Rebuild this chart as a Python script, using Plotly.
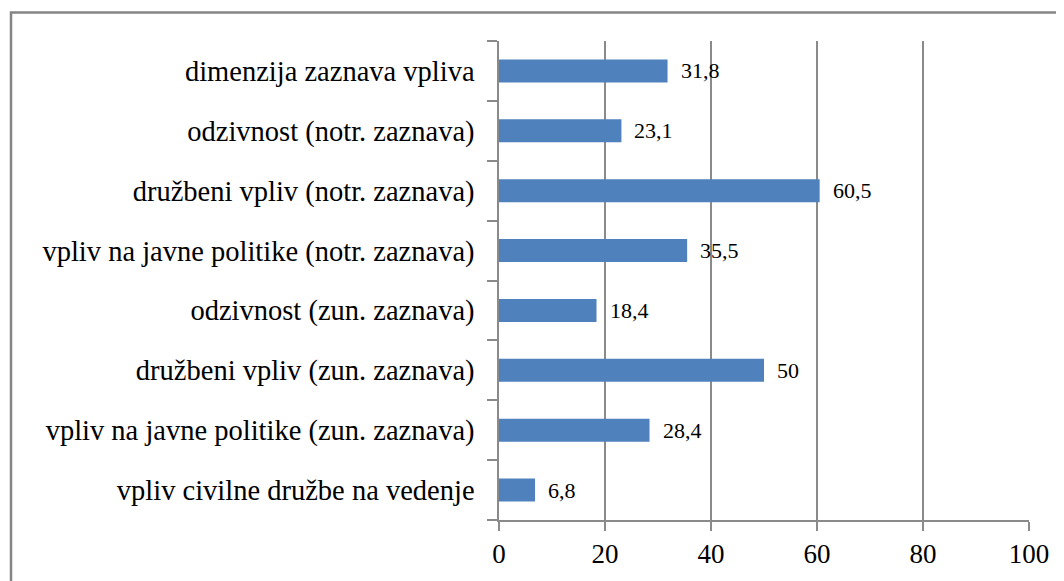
import plotly.graph_objects as go

categories = [
    "dimenzija zaznava vpliva",
    "odzivnost (notr. zaznava)",
    "družbeni vpliv (notr. zaznava)",
    "vpliv na javne politike (notr. zaznava)",
    "odzivnost (zun. zaznava)",
    "družbeni vpliv (zun. zaznava)",
    "vpliv na javne politike (zun. zaznava)",
    "vpliv civilne družbe na vedenje",
]
values = [31.8, 23.1, 60.5, 35.5, 18.4, 50, 28.4, 6.8]
x_ticks = [0, 20, 40, 60, 80, 100]

def fmt(v):
    s = ("%g" % v)
    return s.replace(".", ",")

SERIF = "'Liberation Serif', 'DejaVu Serif', 'Times New Roman', serif"

# page has an 8px body margin, so the figure is drawn 8px smaller
OFF = 8
W, H = 1064 - OFF, 581 - OFF
L, T = 499 - OFF, 41 - OFF
pw, ph = 530, 479
R, B = W - L - pw, H - T - ph

fig = go.Figure()
fig.add_trace(go.Bar(
    x=values, y=categories, orientation="h",
    marker=dict(color="#4F81BD", line=dict(width=0)),
    hoverinfo="x+y",
))

for c, v in zip(categories, values):
    fig.add_annotation(
        x=v, y=c, text=fmt(v), showarrow=False,
        xanchor="left", yanchor="middle", xshift=11,
        font=dict(family=SERIF, size=22, color="#000000"),
    )

grid_col = "#8a8a8a"
fig.update_layout(
    width=W, height=H,
    margin=dict(l=L, r=R, t=T, b=B, pad=0),
    paper_bgcolor="white", plot_bgcolor="white",
    bargap=0.615,
    showlegend=False,
    font=dict(family=SERIF, color="#000000"),
    xaxis=dict(
        range=[0, 100], tickvals=x_ticks, ticktext=[str(t) for t in x_ticks],
        showgrid=True, gridcolor=grid_col, gridwidth=1.5,
        showline=True, linecolor=grid_col, linewidth=1.5,
        ticks="outside", ticklen=9, tickcolor=grid_col, tickwidth=1.5,
        tickfont=dict(family=SERIF, size=27, color="#000000"),
        zeroline=False, fixedrange=True,
    ),
    yaxis=dict(
        type="category", categoryorder="array", categoryarray=categories[::-1],
        autorange=True,
        showline=True, linecolor=grid_col, linewidth=1.5,
        ticks="outside", ticklen=10, tickcolor=grid_col, tickwidth=1.5,
        tickson="boundaries",
        showgrid=False,
        ticklabelstandoff=17,
        tickfont=dict(family=SERIF, size=28.5, color="#000000"),
        fixedrange=True,
    ),
)

# outer chart frame (partially cut off at right and bottom)
fr_l = (11 - OFF - L) / pw
fr_t = 1 + (T - (12.5 - OFF)) / ph
fig.add_shape(type="rect", xref="paper", yref="paper",
              x0=fr_l, x1=1.2, y0=-0.3, y1=fr_t,
              line=dict(color="#858585", width=2.5), fillcolor="rgba(0,0,0,0)",
              layer="above")

fig.write_html("out.html")
